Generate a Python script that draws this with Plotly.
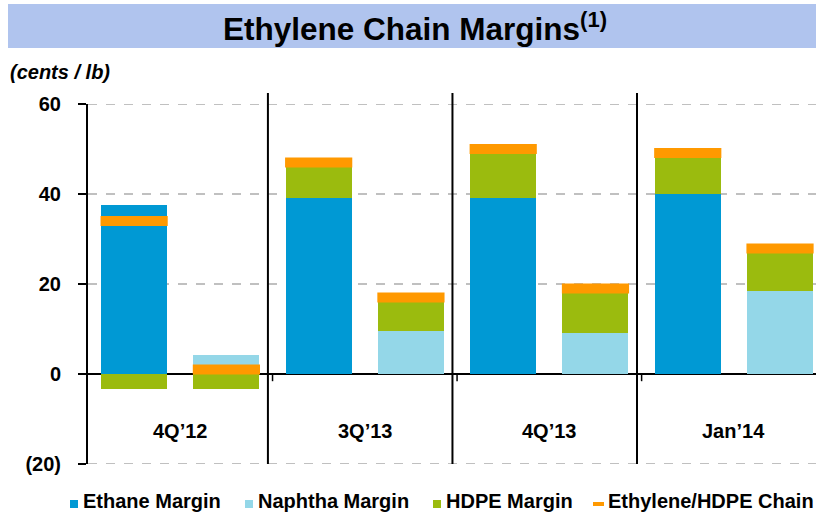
import plotly.graph_objects as go

# ---------------- data ----------------
groups = ["4Q\u201912", "3Q\u201913", "4Q\u201913", "Jan\u201914"]
bar_pos = [0, 1, 2, 3, 4, 5, 6, 7]          # two bars per group
ethane_pos = [0, 2, 4, 6]
ethane_margin = [37.5, 39.2, 39.2, 40.1]
naphtha_pos = [1, 3, 5, 7]
naphtha_margin = [4.3, 9.5, 9.1, 18.4]
hdpe_margin = [-3.3, -3.3, 7.8, 7.5, 10.7, 9.9, 8.9, 8.5]
chain_margin = [34.0, 1.0, 47.0, 17.0, 50.0, 19.0, 49.1, 27.9]

y_tickvals = [-20, 0, 20, 40, 60]
y_ticktext = ["(20)", "0", "20", "40", "60"]

series_names = ["Ethane Margin", "Naphtha Margin", "HDPE Margin", "Ethylene/HDPE Chain"]

# ---------------- style ----------------
FONT = "Liberation Sans, Arial, sans-serif"
C_ETH = "#0099D4"
C_NAP = "#94D7E8"
C_HDPE = "#9BBB0E"
C_CHAIN = "#FF9900"
C_GRID = "#C0C0C0"
BAR_W = 0.715

fig = go.Figure()
fig.add_trace(go.Bar(x=ethane_pos, y=ethane_margin, name=series_names[0],
                     marker=dict(color=C_ETH, line=dict(width=0)), width=BAR_W))
fig.add_trace(go.Bar(x=naphtha_pos, y=naphtha_margin, name=series_names[1],
                     marker=dict(color=C_NAP, line=dict(width=0)), width=BAR_W))
fig.add_trace(go.Bar(x=bar_pos, y=hdpe_margin, name=series_names[2],
                     marker=dict(color=C_HDPE, line=dict(width=0)), width=BAR_W))
fig.add_trace(go.Scatter(x=bar_pos, y=chain_margin, name=series_names[3],
                         mode="markers",
                         marker=dict(symbol="line-ew", size=48,
                                     line=dict(color=C_CHAIN, width=10))))

L, T_PLOT, H_PLOT, W_PLOT = 88, 104, 360, 728
def py(px):
    return (T_PLOT + H_PLOT - px) / H_PLOT
def pxx(px):
    return (px - L) / W_PLOT

shapes = []
# title band
shapes.append(dict(type="rect", xref="paper", yref="paper",
                   x0=pxx(8), x1=1.0, y0=py(48), y1=py(4),
                   fillcolor="#B0C4EE", line=dict(width=0), layer="below"))
# dashed gridlines at the top and bottom edges of the value range
for gv in [y_tickvals[0], y_tickvals[-1]]:
    shapes.append(dict(type="line", xref="paper", yref="y", x0=0, x1=1, y0=gv, y1=gv,
                       line=dict(color=C_GRID, width=2, dash="dash"), layer="below"))
# group separators
for sx in [1.45, 3.45, 5.45]:
    shapes.append(dict(type="line", xref="x", yref="paper", x0=sx, x1=sx,
                       y0=0, y1=py(93), line=dict(color="black", width=2)))
# small ticks on zero line at group boundaries
for tx in [1.5, 3.5, 5.5]:
    shapes.append(dict(type="line", xref="x", yref="y", x0=tx, x1=tx,
                       y0=0, y1=-1.6, line=dict(color="black", width=1.5)))

annotations = [
    dict(text="Ethylene Chain Margins<sup>(1)</sup>", xref="paper", yref="paper",
         x=pxx(415), y=py(27), xanchor="center", yanchor="middle", showarrow=False,
         font=dict(family=FONT, size=31.5, color="black", weight="bold")),
    dict(text="(cents / lb)", xref="paper", yref="paper",
         x=pxx(8), y=py(72), xanchor="left", yanchor="middle", showarrow=False,
         font=dict(family=FONT, size=20, color="black", weight="bold", style="italic")),
]
for i, g in enumerate(groups):
    annotations.append(dict(text=g, xref="x", yref="y", x=2 * i + 0.5, y=-12.6,
                            xanchor="center", yanchor="middle", showarrow=False,
                            font=dict(family=FONT, size=20, color="black", weight="bold")))

# manual legend (symbol + label)
legend_colors = [C_ETH, C_NAP, C_HDPE, C_CHAIN]
legend_sym_x = [70, 245, 433, 593]
legend_txt_x = [81, 256, 444, 606]
for k in range(4):
    if k < 3:
        shapes.append(dict(type="rect", xref="paper", yref="paper",
                           x0=pxx(legend_sym_x[k]), x1=pxx(legend_sym_x[k] + 8),
                           y0=py(508), y1=py(500),
                           fillcolor=legend_colors[k], line=dict(width=0)))
    else:
        shapes.append(dict(type="rect", xref="paper", yref="paper",
                           x0=pxx(legend_sym_x[k]), x1=pxx(legend_sym_x[k] + 11),
                           y0=py(506), y1=py(502),
                           fillcolor=legend_colors[k], line=dict(width=0)))
    annotations.append(dict(text=series_names[k], xref="paper", yref="paper",
                            x=pxx(legend_txt_x[k]), y=py(501),
                            xanchor="left", yanchor="middle", showarrow=False,
                            font=dict(family=FONT, size=20, color="black", weight="bold")))

fig.update_layout(
    width=816, height=512,
    margin=dict(l=L, r=0, t=T_PLOT, b=512 - T_PLOT - H_PLOT, pad=0, autoexpand=False),
    paper_bgcolor="white", plot_bgcolor="white",
    barmode="relative", bargap=0,
    showlegend=False,
    shapes=shapes, annotations=annotations,
    xaxis=dict(range=[-0.5, 7.39], showticklabels=False, showgrid=False,
               zeroline=False, showline=False, ticks="", fixedrange=True),
    yaxis=dict(range=[-20, 60], tickvals=y_tickvals, ticktext=y_ticktext,
               ticks="outside", ticklen=8, tickwidth=2, tickcolor="black",
               showline=True, linecolor="black", linewidth=2,
               showgrid=True, gridcolor=C_GRID, griddash="dash", gridwidth=2,
               zeroline=True, zerolinecolor="black", zerolinewidth=2,
               ticklabelstandoff=13, fixedrange=True,
               tickfont=dict(family=FONT, size=20, color="black", weight="bold")),
)

fig.write_html("out.html",
               config={"displayModeBar": False},
               post_script="document.body.style.margin='0px';document.body.style.overflow='hidden';")
